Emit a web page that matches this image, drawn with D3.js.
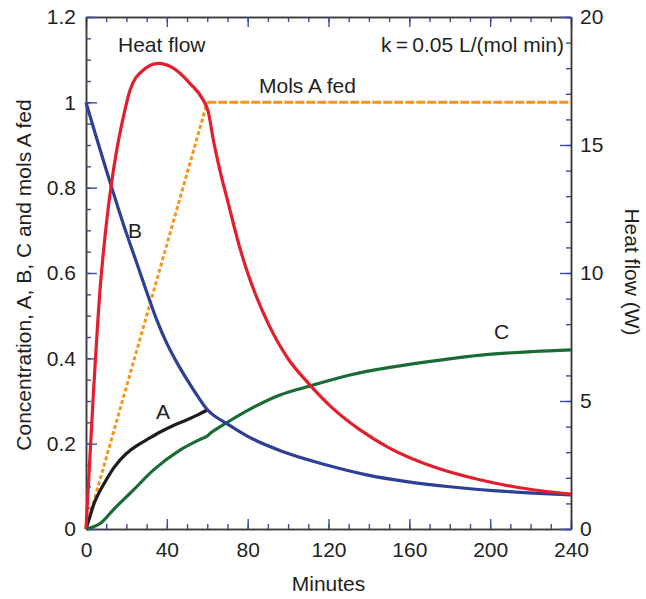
<!DOCTYPE html>
<html>
<head>
<meta charset="utf-8">
<script src="https://cdn.jsdelivr.net/npm/d3@7"></script>
<style>
  body { margin: 0; background: #fff; }
  text { font-family: "Liberation Sans", Arial, sans-serif; fill: #231f20; }
</style>
</head>
<body>
<div id="chart"></div>
<script>
// const
const width = 646
const height = 599
const margin = { top: 17, right: 75, bottom: 70, left: 86 }

// data (minutes)
const xTicks = [0, 40, 80, 120, 160, 200, 240]
const yLeftTicks = [0, 0.2, 0.4, 0.6, 0.8, 1, 1.2]
const yRightTicks = [0, 5, 10, 15, 20]

// mols A fed (left axis)
const fedRiseT = [0, 60]
const fedRiseV = [0, 1]
const fedFlatT = [60, 240]
const fedFlatV = [1, 1]

// B concentration (left axis)
const bT = [0, 5, 10, 15, 20, 25, 30, 35, 40, 45, 50, 55, 60, 62, 70, 80, 97.6, 119, 138.9, 158.7, 180, 201.6, 221.4, 240]
const bV = [1.0, 0.92, 0.842, 0.766, 0.693, 0.625, 0.556, 0.49, 0.435, 0.39, 0.35, 0.313, 0.28, 0.271, 0.246, 0.217, 0.181, 0.15, 0.127, 0.111, 0.099, 0.09, 0.084, 0.08]

// A concentration (left axis), only while feeding
const aT = [0, 2, 4, 7, 10, 14, 20, 25, 30, 37, 43, 50, 55, 60]
const aV = [0, 0.03, 0.06, 0.09, 0.115, 0.145, 0.177, 0.195, 0.209, 0.228, 0.242, 0.256, 0.267, 0.279]

// C concentration (left axis)
const cT = [0, 3, 7, 13.5, 23.4, 33.3, 46.5, 56, 60, 62, 69.6, 82.8, 96, 110.8, 130.6, 152, 175.2, 196.6, 221.4, 240]
const cV = [0, 0.004, 0.013, 0.045, 0.091, 0.138, 0.185, 0.209, 0.218, 0.226, 0.249, 0.285, 0.314, 0.335, 0.361, 0.38, 0.396, 0.408, 0.416, 0.42]

// heat flow in W (right axis)
const heatT = [0, 3.6, 6.9, 10.2, 12.2, 15.2, 18.5, 21.8, 28.4, 35.8, 43.2, 51.5, 58, 60.5, 63, 66.3, 70, 75, 80, 85, 90, 100, 110, 122, 135.6, 150.4, 171.9, 191.7, 213.1, 240]
const heatW = [0, 5.2, 9.3, 12.0, 13.27, 14.8, 16.1, 17.15, 17.93, 18.19, 18.0, 17.4, 16.76, 16.3, 15.2, 14.0, 12.85, 11.3, 10.0, 8.95, 8.05, 6.65, 5.7, 4.72, 3.87, 3.15, 2.43, 1.98, 1.63, 1.36]

const zip = (ts, vs) => ts.map((t, i) => ({ t: t, v: vs[i] }))

// svg
const svg = d3.select("#chart")
  .append("svg")
    .attr("width", width)
    .attr("height", height)

const x = d3.scaleLinear().domain([0, 240]).range([margin.left, width - margin.right])
const yL = d3.scaleLinear().domain([0, 1.2]).range([height - margin.bottom, margin.top])
const yR = d3.scaleLinear().domain([0, 20]).range([height - margin.bottom, margin.top])

const bottom = height - margin.bottom
const right = width - margin.right
const tickColor = "#3b4c9b"
const fmt = d => String(+d.toFixed(2))

function styleAxis(g) {
  g.select(".domain").attr("stroke", "#3a3a3a").attr("stroke-width", 1.5)
  g.selectAll(".tick line").attr("stroke", tickColor).attr("stroke-width", 1.4)
  g.selectAll(".tick text").style("font-size", "21px").attr("fill", "#231f20")
}

const axisGroup = svg.append("g").attr("id", "axisGroup")

// minor ticks first
axisGroup.append("g")
  .attr("transform", `translate(0,${bottom})`)
  .call(d3.axisBottom(x).tickValues(d3.range(0, 241, 10)).tickSize(-5).tickSizeOuter(0).tickFormat(""))
  .call(styleAxis)
axisGroup.append("g")
  .attr("transform", `translate(0,${margin.top})`)
  .call(d3.axisTop(x).tickValues(d3.range(0, 241, 10)).tickSize(-5).tickSizeOuter(0).tickFormat(""))
  .call(styleAxis)
axisGroup.append("g")
  .attr("transform", `translate(${margin.left},0)`)
  .call(d3.axisLeft(yL).tickValues(d3.range(0, 1.21, 0.05)).tickSize(-5).tickSizeOuter(0).tickFormat(""))
  .call(styleAxis)
axisGroup.append("g")
  .attr("transform", `translate(${right},0)`)
  .call(d3.axisRight(yR).tickValues(d3.range(0, 21, 1)).tickSize(-5).tickSizeOuter(0).tickFormat(""))
  .call(styleAxis)

// major ticks
axisGroup.append("g")
  .attr("transform", `translate(0,${bottom})`)
  .call(d3.axisBottom(x).tickValues(xTicks).tickSize(-10).tickSizeOuter(0).tickPadding(13).tickFormat(fmt))
  .call(styleAxis)
axisGroup.append("g")
  .attr("transform", `translate(0,${margin.top})`)
  .call(d3.axisTop(x).tickValues(xTicks).tickSize(-10).tickSizeOuter(0).tickFormat(""))
  .call(styleAxis)
axisGroup.append("g")
  .attr("transform", `translate(${margin.left},0)`)
  .call(d3.axisLeft(yL).tickValues(yLeftTicks).tickSize(-11).tickSizeOuter(0).tickPadding(10).tickFormat(fmt))
  .call(styleAxis)
axisGroup.append("g")
  .attr("transform", `translate(${right},0)`)
  .call(d3.axisRight(yR).tickValues(yRightTicks).tickSize(-11).tickSizeOuter(0).tickPadding(9).tickFormat(fmt))
  .call(styleAxis)

// lines
const lineL = d3.line().x(d => x(d.t)).y(d => yL(d.v)).curve(d3.curveMonotoneX)
const lineR = d3.line().x(d => x(d.t)).y(d => yR(d.v)).curve(d3.curveMonotoneX)

const lines = svg.append("g").attr("fill", "none").attr("stroke-linejoin", "round")

lines.append("path")
  .datum(zip(fedRiseT, fedRiseV))
  .attr("stroke", "#f7941d").attr("stroke-width", 3)
  .attr("stroke-dasharray", "4,2.5")
  .attr("d", lineL)
lines.append("path")
  .datum(zip(fedFlatT, fedFlatV))
  .attr("stroke", "#f7941d").attr("stroke-width", 3)
  .attr("stroke-dasharray", "9,2")
  .attr("d", lineL)

lines.append("path")
  .datum(zip(cT, cV))
  .attr("stroke", "#1b6b36").attr("stroke-width", 3.2)
  .attr("d", lineL)

lines.append("path")
  .datum(zip(aT, aV))
  .attr("stroke", "#1d1d1b").attr("stroke-width", 3.2)
  .attr("d", lineL)

lines.append("path")
  .datum(zip(bT, bV))
  .attr("stroke", "#2e3f96").attr("stroke-width", 3.2)
  .attr("d", lineL)

lines.append("path")
  .datum(zip(heatT, heatW))
  .attr("stroke", "#e31e2d").attr("stroke-width", 3.2)
  .attr("d", lineR)

// annotations
const notes = svg.append("g").style("font-size", "21px")
notes.append("text").attr("x", 118).attr("y", 52).text("Heat flow")
notes.append("text").attr("x", 564).attr("y", 52).attr("text-anchor", "end").text("k\u2009=\u20090.05 L/(mol min)")
notes.append("text").attr("x", 259).attr("y", 93).text("Mols A fed")
notes.append("text").attr("x", 128).attr("y", 238).text("B")
notes.append("text").attr("x", 156).attr("y", 419).text("A")
notes.append("text").attr("x", 494).attr("y", 339).text("C")

// axis titles
svg.append("text")
  .attr("x", (margin.left + right) / 2).attr("y", 591)
  .attr("text-anchor", "middle").style("font-size", "21px")
  .text("Minutes")
svg.append("text")
  .attr("transform", `translate(31,${(margin.top + bottom) / 2 + 2}) rotate(-90)`)
  .attr("text-anchor", "middle").style("font-size", "21px")
  .text("Concentration, A, B, C and mols A fed")
svg.append("text")
  .attr("transform", `translate(625,272) rotate(90)`)
  .attr("text-anchor", "middle").style("font-size", "21px")
  .text("Heat flow (W)")
</script>
</body>
</html>
